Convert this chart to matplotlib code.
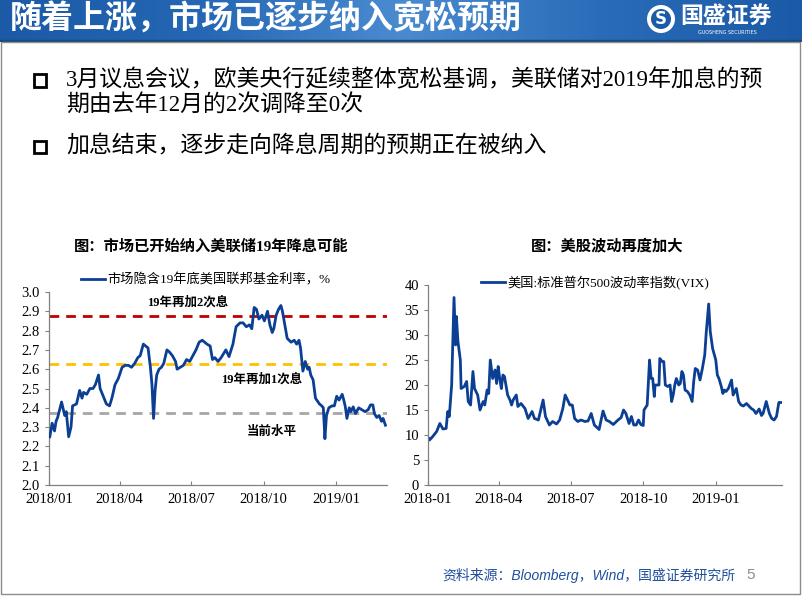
import numpy as np
import pandas as pd
import matplotlib
matplotlib.use("Agg")
import matplotlib.pyplot as plt
import matplotlib.dates as mdates
from matplotlib.colors import LinearSegmentedColormap
from matplotlib.patches import Circle, Rectangle

plt.rcParams['font.family'] = ['Liberation Serif', 'Noto Sans CJK SC']
plt.rcParams['axes.unicode_minus'] = False

# ---- data: market-implied fed funds rate, end of 2019 (%) ----
ff_dates = ['2018-01-02', '2018-01-05', '2018-01-08', '2018-01-10', '2018-01-12', '2018-01-17',
            '2018-01-21', '2018-01-23', '2018-01-26', '2018-01-29', '2018-01-31', '2018-02-05',
            '2018-02-09', '2018-02-12', '2018-02-14', '2018-02-18', '2018-02-22', '2018-02-26',
            '2018-03-01', '2018-03-05', '2018-03-07', '2018-03-11', '2018-03-15', '2018-03-19',
            '2018-03-22', '2018-03-26', '2018-03-30', '2018-04-04', '2018-04-08', '2018-04-12',
            '2018-04-16', '2018-04-20', '2018-04-24', '2018-04-27', '2018-05-01', '2018-05-04',
            '2018-05-07', '2018-05-10', '2018-05-12', '2018-05-14', '2018-05-16', '2018-05-18',
            '2018-05-21', '2018-05-24', '2018-05-27', '2018-05-31', '2018-06-03', '2018-06-07',
            '2018-06-11', '2018-06-13', '2018-06-17', '2018-06-21', '2018-06-25', '2018-06-29',
            '2018-07-03', '2018-07-07', '2018-07-11', '2018-07-15', '2018-07-21', '2018-07-25',
            '2018-07-28', '2018-07-31', '2018-08-04', '2018-08-08', '2018-08-14', '2018-08-18',
            '2018-08-23', '2018-08-27', '2018-09-01', '2018-09-05', '2018-09-09', '2018-09-13',
            '2018-09-16', '2018-09-19', '2018-09-22', '2018-09-25', '2018-09-29', '2018-10-02',
            '2018-10-06', '2018-10-09', '2018-10-12', '2018-10-14', '2018-10-17', '2018-10-20',
            '2018-10-23', '2018-10-25', '2018-10-28', '2018-10-31', '2018-11-05', '2018-11-09',
            '2018-11-12', '2018-11-15', '2018-11-17', '2018-11-20', '2018-11-23', '2018-11-26',
            '2018-11-28', '2018-11-30', '2018-12-03', '2018-12-06', '2018-12-11', '2018-12-14',
            '2018-12-16', '2018-12-18', '2018-12-20', '2018-12-23', '2018-12-27', '2018-12-30',
            '2019-01-02', '2019-01-05', '2019-01-09', '2019-01-11', '2019-01-13', '2019-01-15',
            '2019-01-18', '2019-01-20', '2019-01-23', '2019-01-26', '2019-01-30', '2019-02-03',
            '2019-02-07', '2019-02-11', '2019-02-14', '2019-02-17', '2019-02-19', '2019-02-22',
            '2019-02-25', '2019-02-28', '2019-03-02', '2019-03-05']
ff_values = [2.25, 2.32, 2.28, 2.33, 2.35, 2.43,
             2.36, 2.38, 2.25, 2.30, 2.41, 2.42,
             2.49, 2.45, 2.48, 2.47, 2.50, 2.50,
             2.52, 2.57, 2.50, 2.46, 2.42, 2.41,
             2.45, 2.52, 2.55, 2.61, 2.62, 2.62,
             2.61, 2.63, 2.66, 2.67, 2.73, 2.72,
             2.71, 2.61, 2.52, 2.345, 2.49, 2.57,
             2.60, 2.61, 2.63, 2.70, 2.69, 2.67,
             2.64, 2.60, 2.61, 2.62, 2.65, 2.64,
             2.67, 2.70, 2.74, 2.75, 2.73, 2.72,
             2.65, 2.66, 2.64, 2.66, 2.70, 2.665,
             2.73, 2.82, 2.84, 2.84, 2.82, 2.83,
             2.81, 2.92, 2.91, 2.86, 2.88, 2.85,
             2.90, 2.83, 2.79, 2.81, 2.88, 2.91,
             2.93, 2.90, 2.83, 2.76, 2.74, 2.75,
             2.73, 2.75, 2.71, 2.59, 2.64, 2.60,
             2.61, 2.57, 2.545, 2.45, 2.42, 2.41,
             2.40, 2.24, 2.36, 2.40, 2.41, 2.41,
             2.46, 2.44, 2.47, 2.44, 2.405, 2.345,
             2.40, 2.38, 2.405, 2.37, 2.40, 2.39,
             2.38, 2.39, 2.415, 2.415, 2.37, 2.35,
             2.36, 2.33, 2.345, 2.31]
ref_levels = [2.875, 2.625, 2.375]
ref_colors = ['#C00000', '#FFC000', '#A6A6A6']
ref_labels = ['19年再加2次息', '19年再加1次息', '当前水平']

# ---- data: VIX ----
vix_dates = ['2018-01-02', '2018-01-03', '2018-01-07', '2018-01-12', '2018-01-16', '2018-01-20',
             '2018-01-24', '2018-01-26', '2018-01-28', '2018-01-31', '2018-02-03', '2018-02-05',
             '2018-02-06', '2018-02-08', '2018-02-11', '2018-02-12', '2018-02-16', '2018-02-19',
             '2018-02-21', '2018-02-24', '2018-02-27', '2018-03-01', '2018-03-05', '2018-03-08',
             '2018-03-12', '2018-03-14', '2018-03-17', '2018-03-19', '2018-03-21', '2018-03-24',
             '2018-03-27', '2018-03-29', '2018-03-31', '2018-04-02', '2018-04-04', '2018-04-06',
             '2018-04-08', '2018-04-12', '2018-04-15', '2018-04-17', '2018-04-19', '2018-04-23',
             '2018-04-25', '2018-04-29', '2018-05-04', '2018-05-08', '2018-05-13', '2018-05-16',
             '2018-05-21', '2018-05-27', '2018-05-30', '2018-06-01', '2018-06-04', '2018-06-08',
             '2018-06-13', '2018-06-17', '2018-06-21', '2018-06-24', '2018-06-27', '2018-06-30',
             '2018-07-03', '2018-07-06', '2018-07-10', '2018-07-14', '2018-07-19', '2018-07-23',
             '2018-07-27', '2018-07-31', '2018-08-06', '2018-08-11', '2018-08-15', '2018-08-19',
             '2018-08-24', '2018-08-30', '2018-09-03', '2018-09-06', '2018-09-09', '2018-09-13',
             '2018-09-16', '2018-09-19', '2018-09-22', '2018-09-25', '2018-09-28', '2018-10-01',
             '2018-10-02', '2018-10-06', '2018-10-09', '2018-10-11', '2018-10-13', '2018-10-15',
             '2018-10-16', '2018-10-19', '2018-10-21', '2018-10-22', '2018-10-25', '2018-10-27',
             '2018-10-29', '2018-11-01', '2018-11-04', '2018-11-06', '2018-11-08', '2018-11-10',
             '2018-11-12', '2018-11-15', '2018-11-17', '2018-11-19', '2018-11-21', '2018-11-23',
             '2018-11-26', '2018-11-29', '2018-12-02', '2018-12-04', '2018-12-06', '2018-12-09',
             '2018-12-12', '2018-12-15', '2018-12-18', '2018-12-20', '2018-12-23', '2018-12-25',
             '2018-12-28', '2019-01-01', '2019-01-03', '2019-01-05', '2019-01-08', '2019-01-10',
             '2019-01-12', '2019-01-14', '2019-01-17', '2019-01-21', '2019-01-23', '2019-01-27',
             '2019-01-30', '2019-02-02', '2019-02-05', '2019-02-09', '2019-02-12', '2019-02-15',
             '2019-02-18', '2019-02-21', '2019-02-25', '2019-02-28', '2019-03-02', '2019-03-06',
             '2019-03-10', '2019-03-13', '2019-03-16', '2019-03-19', '2019-03-22', '2019-03-25']
vix_values = [9.3, 9.0, 9.7, 10.7, 12.3, 11.2,
              11.3, 14.7, 13.7, 20.0, 37.5, 28.0,
              33.7, 28.7, 25.0, 19.3, 19.7, 20.7,
              16.7, 16.0, 22.7, 19.3, 18.0, 15.0,
              16.7, 16.0, 19.0, 18.3, 25.0, 21.3,
              23.0, 20.3, 23.7, 21.3, 19.3, 22.0,
              21.7, 18.0, 17.0, 16.0, 17.0, 18.0,
              15.7, 16.3, 15.3, 13.3, 14.7, 13.3,
              13.0, 17.0, 13.7, 13.0, 12.0, 12.7,
              12.2, 13.0, 15.3, 18.0, 17.0, 16.0,
              16.0, 13.3, 12.7, 13.0, 12.7, 12.8,
              14.3, 12.0, 11.1, 14.8, 13.0, 12.7,
              12.1, 13.0, 13.5, 15.0, 14.3, 12.3,
              13.7, 12.0, 12.0, 13.0, 12.1, 11.9,
              15.0, 16.0, 25.0, 21.3, 21.3, 17.7,
              20.0, 20.0, 20.0, 25.3, 24.7, 24.7,
              20.0, 19.7, 20.0, 16.7, 18.0, 20.0,
              21.3, 20.0, 20.3, 22.7, 22.0, 19.0,
              18.7, 18.0, 16.7, 20.7, 23.3, 23.0,
              21.0, 23.3, 26.0, 30.7, 36.2, 30.7,
              27.3, 25.0, 22.0, 21.3, 19.7, 18.3,
              19.0, 18.7, 19.3, 21.0, 18.0, 19.3,
              16.7, 16.0, 15.8, 16.3, 15.8, 15.3,
              15.0, 14.3, 15.2, 13.9, 14.3, 16.7,
              14.3, 13.3, 13.0, 13.7, 16.5, 16.5]

line_color = '#0B3F94'
W, H = 802, 602


def fx(px):
    return px / W


def fy(py):
    return 1 - py / H


def main():
    fig = plt.figure(figsize=(8.02, 6.02), dpi=100)

    # header band
    hd = fig.add_axes([0, fy(42), 1, 42 / H])
    cmap = LinearSegmentedColormap.from_list('hdr', ['#1b5aa6', '#2567b4', '#4a8bd0', '#2a6cb8', '#1b5aa6'])
    grad = np.linspace(0, 1, 400).reshape(1, -1)
    hd.imshow(grad, aspect='auto', cmap=cmap, extent=[0, W, 42, 0])
    hd.add_patch(Rectangle((0, 40), W, 2, color='#17487f'))
    hd.set_xlim(0, W)
    hd.set_ylim(42, 0)
    hd.axis('off')
    hd.text(10, 20, '随着上涨，市场已逐步纳入宽松预期', color='white', fontsize=23,
            fontweight='bold', va='center', ha='left', family=['Noto Sans CJK SC'])
    hd.add_patch(Circle((661, 19), 14, facecolor='white', edgecolor='none'))
    hd.add_patch(Circle((661, 19), 10, facecolor='#1b5aa6', edgecolor='none'))
    hd.text(661, 19.5, 'S', color='white', fontsize=12, fontweight='bold',
            ha='center', va='center', family=['DejaVu Sans'])
    hd.text(680, 16, '国盛证券', color='white', fontsize=16.5, fontweight='bold',
            ha='left', va='center', family=['Noto Sans CJK SC'])
    hd.text(727, 33, 'GUOSHENG SECURITIES', color='white', fontsize=3.5,
            ha='center', va='center', family=['DejaVu Sans'])

    # slide frame
    fig.patches.append(Rectangle((fx(1), fy(594)), fx(799), (594 - 42) / H, transform=fig.transFigure,
                                 fill=False, edgecolor='#8c8c8c', linewidth=1))

    # bullets
    for py in (80, 146):
        fig.patches.append(Rectangle((fx(34), fy(py + 6.5)), fx(12), 12 / H, transform=fig.transFigure,
                                     fill=False, edgecolor='black', linewidth=2))
    fig.text(fx(66), fy(80), '3月议息会议，欧美央行延续整体宽松基调，美联储对2019年加息的预',
             fontsize=16.5, va='center', ha='left')
    fig.text(fx(66), fy(105), '期由去年12月的2次调降至0次', fontsize=16.5, va='center', ha='left')
    fig.text(fx(66), fy(146), '加息结束，逐步走向降息周期的预期正在被纳入', fontsize=16.5, va='center', ha='left')

    # chart titles
    fig.text(fx(211), fy(246), '图：市场已开始纳入美联储19年降息可能', fontsize=11, fontweight='bold',
             ha='center', va='center')
    fig.text(fx(607), fy(246), '图：美股波动再度加大', fontsize=11, fontweight='bold',
             ha='center', va='center')

    # left chart
    ax1 = fig.add_axes([fx(49), fy(485), fx(387 - 49), (485 - 292) / H])
    d1 = pd.to_datetime(ff_dates)
    ax1.plot(d1, ff_values, color=line_color, linewidth=2.0, label='市场隐含19年底美国联邦基金利率，%', zorder=3)
    for lvl, c in zip(ref_levels, ref_colors):
        ax1.axhline(lvl, color=c, linestyle=(0, (3.5, 2.5)), linewidth=2, zorder=2)
    ax1.set_ylim(2.0, 3.0)
    ax1.set_yticks(np.arange(2.0, 3.01, 0.1))
    ax1.yaxis.set_major_formatter(plt.FormatStrFormatter('%.1f'))
    ax1.set_xlim(pd.Timestamp('2018-01-01'), pd.Timestamp('2019-03-07'))
    ax1.xaxis.set_major_locator(mdates.MonthLocator(bymonth=[1, 4, 7, 10]))
    ax1.xaxis.set_major_formatter(mdates.DateFormatter('%Y/%m'))
    ax1.text(0.41, 0.945, ref_labels[0], transform=ax1.transAxes, fontsize=9, fontweight='bold',
             ha='center', va='center')
    ax1.text(0.63, 0.545, ref_labels[1], transform=ax1.transAxes, fontsize=9, fontweight='bold',
             ha='center', va='center')
    ax1.text(0.66, 0.275, ref_labels[2], transform=ax1.transAxes, fontsize=9, fontweight='bold',
             ha='center', va='center')
    ax1.legend(loc='center', bbox_to_anchor=(0.465, 1.062), frameon=False, fontsize=9.5,
               handlelength=1.8, handletextpad=0.2, borderaxespad=0)

    # right chart
    ax2 = fig.add_axes([fx(428), fy(485), fx(782 - 428), (485 - 285) / H])
    d2 = pd.to_datetime(vix_dates)
    ax2.plot(d2, vix_values, color=line_color, linewidth=2.0, label='美国:标准普尔500波动率指数(VIX)')
    ax2.set_ylim(0, 40)
    ax2.set_yticks(np.arange(0, 41, 5))
    ax2.set_xlim(pd.Timestamp('2018-01-01'), pd.Timestamp('2019-03-26'))
    ax2.xaxis.set_major_locator(mdates.MonthLocator(bymonth=[1, 4, 7, 10]))
    ax2.xaxis.set_major_formatter(mdates.DateFormatter('%Y-%m'))
    ax2.legend(loc='center', bbox_to_anchor=(0.473, 1.01), frameon=False, fontsize=9.5,
               handlelength=1.8, handletextpad=0.2, borderaxespad=0)

    for ax in (ax1, ax2):
        for s in ('top', 'right'):
            ax.spines[s].set_visible(False)
        for s in ('left', 'bottom'):
            ax.spines[s].set_color('#808080')
            ax.spines[s].set_linewidth(0.9)
        ax.tick_params(axis='both', labelsize=10.5, colors='#808080', labelcolor='black', length=3)
        ax.tick_params(axis='x', direction='in', pad=6)
        ax.set_facecolor('none')

    # footer
    fig.text(fx(735), fy(575), '资料来源：Bloomberg，Wind，国盛证券研究所', fontsize=10, style='italic',
             color='#1F4E9D', ha='right', va='center', family=['Liberation Sans', 'Noto Sans CJK SC'])
    fig.text(fx(751), fy(575), '5', fontsize=11, color='#8c8c8c', ha='center', va='center',
             family=['Liberation Sans'])

    fig.savefig('out.png', dpi=100)


if __name__ == "__main__":
    main()
